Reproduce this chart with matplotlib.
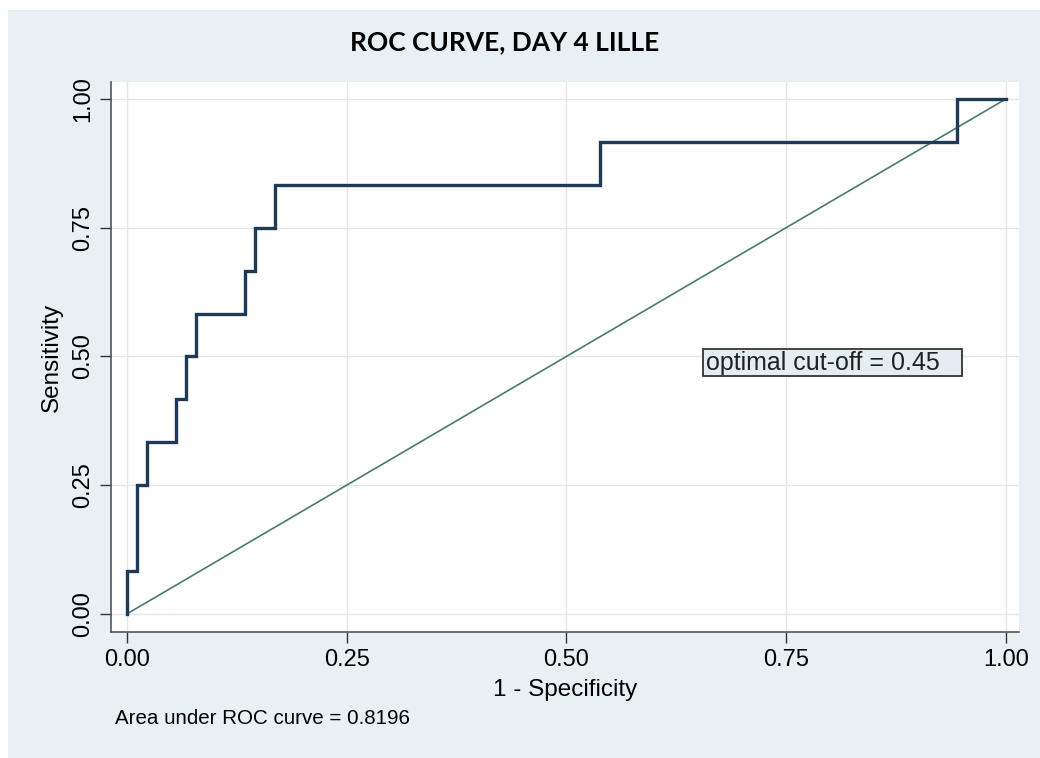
import matplotlib.pyplot as plt
from matplotlib.patches import Rectangle

# ROC curve points (1 - specificity, sensitivity)
fpr = [0.0, 0.0, 0.0112, 0.0112, 0.0225, 0.0225, 0.0562, 0.0562, 0.0674, 0.0674,
       0.0787, 0.0787, 0.1348, 0.1348, 0.1461, 0.1461, 0.1685, 0.1685, 0.538, 0.538,
       0.944, 0.944, 1.0]
tpr = [0.0, 0.0833, 0.0833, 0.25, 0.25, 0.3333, 0.3333, 0.4167, 0.4167, 0.5,
       0.5, 0.5833, 0.5833, 0.6667, 0.6667, 0.75, 0.75, 0.8333, 0.8333, 0.9167,
       0.9167, 1.0, 1.0]
ref_x = [0.0, 1.0]
ref_y = [0.0, 1.0]
ticks = [0.0, 0.25, 0.5, 0.75, 1.0]
tick_labels = ['0.00', '0.25', '0.50', '0.75', '1.00']

bg = '#e8f0f3'
plt.rcParams['font.family'] = ['Liberation Sans', 'DejaVu Sans']

fig = plt.figure(figsize=(10.4, 7.58), dpi=100)
fig.patch.set_facecolor('white')
# light blue graph region, thin white margin top/left
fig.patches.append(Rectangle((8 / 1040, 0), 1 - 8 / 1040, 1 - 10 / 758,
                             transform=fig.transFigure, facecolor=bg,
                             edgecolor='none', zorder=-10))

ax = fig.add_axes([111 / 1040, 1 - 632 / 758, (1019 - 111) / 1040, (632 - 82) / 758])
ax.set_facecolor('white')

ax.plot(ref_x, ref_y, color='#4a7a6e', lw=1.2, zorder=2)
ax.plot(fpr, tpr, color='#1f3a56', lw=2.4, zorder=3, solid_joinstyle='miter')

ax.set_xlim(-0.018, 1.015)
ax.set_ylim(-0.035, 1.033)
ax.set_xticks(ticks)
ax.set_xticklabels(tick_labels)
ax.set_yticks(ticks)
ax.set_yticklabels(tick_labels, rotation=90, va='center')
ax.tick_params(axis='both', labelsize=17, length=8, width=1, color='#333333',
               pad=4)
ax.grid(True, color='#e6e6e6', lw=1)
ax.set_axisbelow(True)

for s in ['top', 'right']:
    ax.spines[s].set_visible(False)
for s in ['left', 'bottom']:
    ax.spines[s].set_color('#555555')
    ax.spines[s].set_linewidth(1.2)

ax.set_xlabel('1 - Specificity', fontsize=17.5, labelpad=6)
ax.set_ylabel('Sensitivity', fontsize=17.5, labelpad=7)

# cut-off annotation box
ax.add_patch(Rectangle((0.655, 0.462), 0.295, 0.053, facecolor='#e4eef2',
                       edgecolor='#333333', lw=1.3, zorder=4))
ax.text(0.659, 0.487, 'optimal cut-off = 0.45', fontsize=18, color='#222222',
        va='center', ha='left', zorder=5)

fig.text(505 / 1040, 1 - 42 / 758, 'ROC CURVE, DAY 4 LILLE', fontsize=19,
         fontweight='bold', family='Lato', ha='center', va='center')
fig.text(115 / 1040, 1 - 719 / 758, 'Area under ROC curve = 0.8196',
         fontsize=14.8, ha='left', va='center')

fig.savefig('out.png', dpi=100, facecolor=fig.get_facecolor())
